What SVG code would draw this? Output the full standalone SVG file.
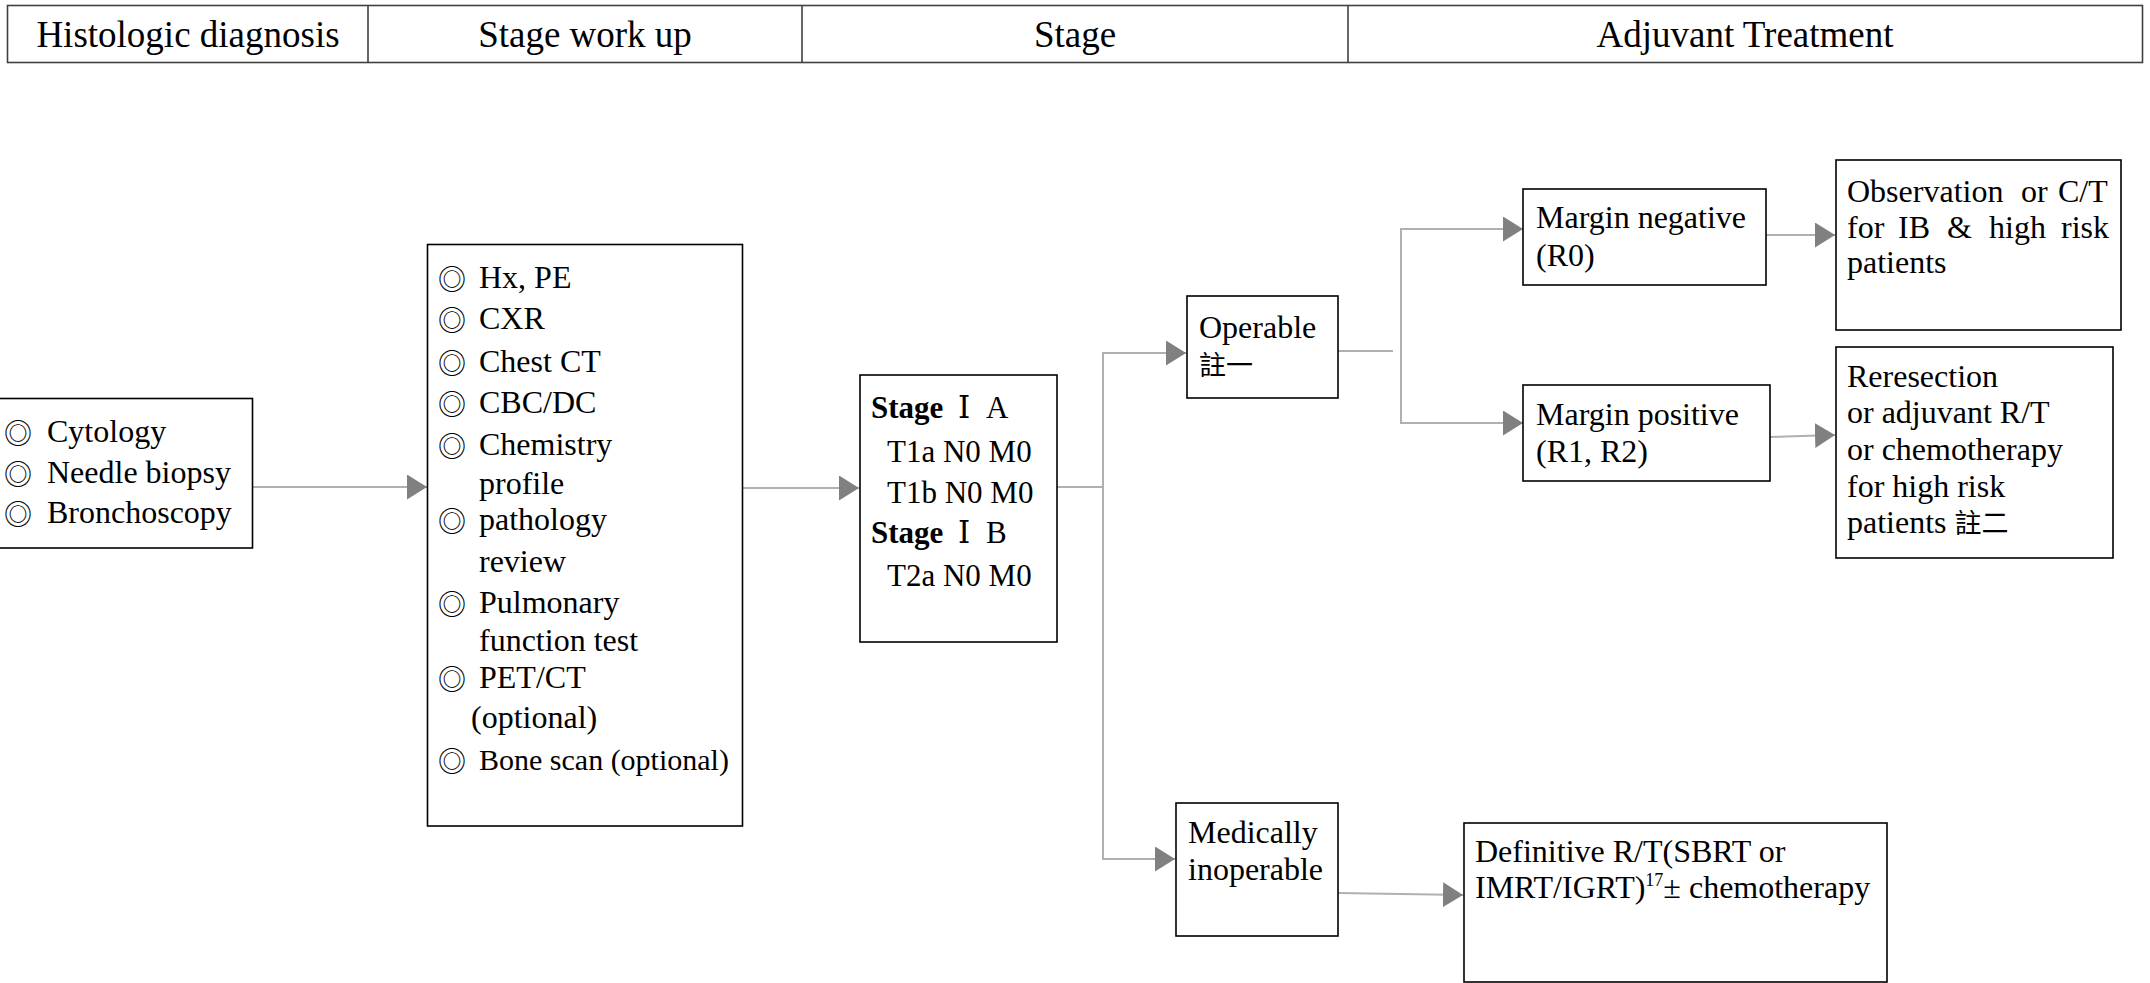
<svg xmlns="http://www.w3.org/2000/svg" width="2150" height="983" viewBox="0 0 2150 983">
<defs>
<style>
text{font-family:"Liberation Serif","DejaVu Serif","Noto Sans CJK TC",serif;font-size:32px;fill:#000}
.hd{font-size:37px;text-anchor:middle}
.box{fill:#fff;stroke:#000;stroke-width:1.6}
.hbox{fill:#fff;stroke:#404040;stroke-width:1.6}
.con{fill:none;stroke:#b0b0b0;stroke-width:2}
.sym{font-family:"Noto Sans CJK TC",sans-serif;font-size:28px}
.cjk{font-family:"Noto Sans CJK TC",sans-serif;font-size:27px}
.st{font-size:31px}
</style>
<marker id="ah" markerUnits="userSpaceOnUse" markerWidth="21" markerHeight="26" refX="20" refY="12.5" orient="auto">
<path d="M0,0 L20,12.5 L0,25 z" fill="#808080"/>
</marker>
</defs>
<g font-family="Liberation Serif, serif">
<g id="header">
<rect class="hbox" x="7.5" y="5.5" width="2135" height="57"/>
<line x1="368" y1="5.5" x2="368" y2="62.5" stroke="#404040" stroke-width="1.6"/>
<line x1="802" y1="5.5" x2="802" y2="62.5" stroke="#404040" stroke-width="1.6"/>
<line x1="1348" y1="5.5" x2="1348" y2="62.5" stroke="#404040" stroke-width="1.6"/>
<text class="hd" x="188" y="47">Histologic diagnosis</text>
<text class="hd" x="585" y="47">Stage work up</text>
<text class="hd" x="1075" y="47">Stage</text>
<text class="hd" x="1745" y="47">Adjuvant Treatment</text>
</g>

<g id="connectors">
<line class="con" x1="252" y1="487" x2="427" y2="487" marker-end="url(#ah)"/>
<line class="con" x1="743" y1="488" x2="859" y2="488" marker-end="url(#ah)"/>
<path class="con" d="M1057,487 H1103"/>
<path class="con" d="M1103,488 V353 H1186" marker-end="url(#ah)"/>
<path class="con" d="M1103,486 V859 H1175" marker-end="url(#ah)"/>
<path class="con" d="M1338,351 H1393"/>
<path class="con" d="M1401,326 V229 H1523" marker-end="url(#ah)"/>
<path class="con" d="M1401,326 V423 H1523" marker-end="url(#ah)"/>
<line class="con" x1="1766" y1="235" x2="1835" y2="235" marker-end="url(#ah)"/>
<line class="con" x1="1770" y1="437" x2="1835" y2="435" marker-end="url(#ah)"/>
<line class="con" x1="1338" y1="893" x2="1463" y2="895" marker-end="url(#ah)"/>
</g>

<g id="diagnosis">
<rect class="box" x="-2" y="398.5" width="254.5" height="149.5"/>
<text x="4" y="444" class="sym">◎</text><text x="47" y="442">Cytology</text>
<text x="4" y="484.5" class="sym">◎</text><text x="47" y="482.5">Needle biopsy</text>
<text x="4" y="525" class="sym">◎</text><text x="47" y="523">Bronchoscopy</text>
</g>

<g id="workup">
<rect class="box" x="427.5" y="244.5" width="315" height="581.5"/>
<text x="438" y="289.5" class="sym">◎</text><text x="479" y="287.5">Hx, PE</text>
<text x="438" y="330.5" class="sym">◎</text><text x="479" y="328.5">CXR</text>
<text x="438" y="373.5" class="sym">◎</text><text x="479" y="371.5">Chest CT</text>
<text x="438" y="415" class="sym">◎</text><text x="479" y="413">CBC/DC</text>
<text x="438" y="457" class="sym">◎</text><text x="479" y="455">Chemistry</text>
<text x="479" y="494">profile</text>
<text x="438" y="532" class="sym">◎</text><text x="479" y="530">pathology</text>
<text x="479" y="571.5">review</text>
<text x="438" y="614.5" class="sym">◎</text><text x="479" y="612.5">Pulmonary</text>
<text x="479" y="651">function test</text>
<text x="438" y="690" class="sym">◎</text><text x="479" y="688">PET/CT</text>
<text x="471" y="727.5">(optional)</text>
<text x="438" y="771.5" class="sym">◎</text><text x="479" y="769.5" style="font-size:30px">Bone scan (optional)</text>
</g>

<g id="stage">
<rect class="box" x="860" y="375" width="197" height="267"/>
<text class="st" x="871" y="418"><tspan font-weight="bold">Stage</tspan><tspan x="958">Ⅰ</tspan><tspan x="986">A</tspan></text>
<text class="st" x="887" y="461.5">T1a N0 M0</text>
<text class="st" x="887" y="502.5">T1b N0 M0</text>
<text class="st" x="871" y="543"><tspan font-weight="bold">Stage</tspan><tspan x="958">Ⅰ</tspan><tspan x="986">B</tspan></text>
<text class="st" x="887" y="586">T2a N0 M0</text>
</g>

<g id="operable">
<rect class="box" x="1187" y="296" width="151" height="102"/>
<text x="1199" y="338">Operable</text>
<text x="1199" y="375" class="cjk">註一</text>
</g>

<g id="inoperable">
<rect class="box" x="1176" y="803" width="162" height="133"/>
<text x="1188" y="843">Medically</text>
<text x="1188" y="880">inoperable</text>
</g>

<g id="margin-negative">
<rect class="box" x="1523" y="189" width="243" height="96"/>
<text x="1536" y="228">Margin negative</text>
<text x="1536" y="266">(R0)</text>
</g>

<g id="margin-positive">
<rect class="box" x="1523" y="385" width="247" height="96"/>
<text x="1536" y="425">Margin positive</text>
<text x="1536" y="462">(R1, R2)</text>
</g>

<g id="observation">
<rect class="box" x="1836" y="160" width="285" height="170"/>
<text y="202"><tspan x="1847">Observation</tspan><tspan x="2021">or</tspan><tspan x="2058">C/T</tspan></text>
<text y="238"><tspan x="1847">for</tspan><tspan x="1898">IB</tspan><tspan x="1947">&amp;</tspan><tspan x="1989">high</tspan><tspan x="2061">risk</tspan></text>
<text x="1847" y="273">patients</text>
</g>

<g id="reresection">
<rect class="box" x="1836" y="347" width="277" height="211"/>
<text x="1847" y="387">Reresection</text>
<text x="1847" y="423">or adjuvant R/T</text>
<text x="1847" y="460">or chemotherapy</text>
<text x="1847" y="497">for high risk</text>
<text x="1847" y="533">patients <tspan class="cjk">註二</tspan></text>
</g>

<g id="definitive">
<rect class="box" x="1464" y="823" width="423" height="159"/>
<text x="1475" y="862">Definitive R/T(SBRT or</text>
<text x="1475" y="898">IMRT/IGRT)<tspan font-size="18" dy="-12">17</tspan><tspan dy="12">± chemotherapy</tspan></text>
</g>
</g>
</svg>
